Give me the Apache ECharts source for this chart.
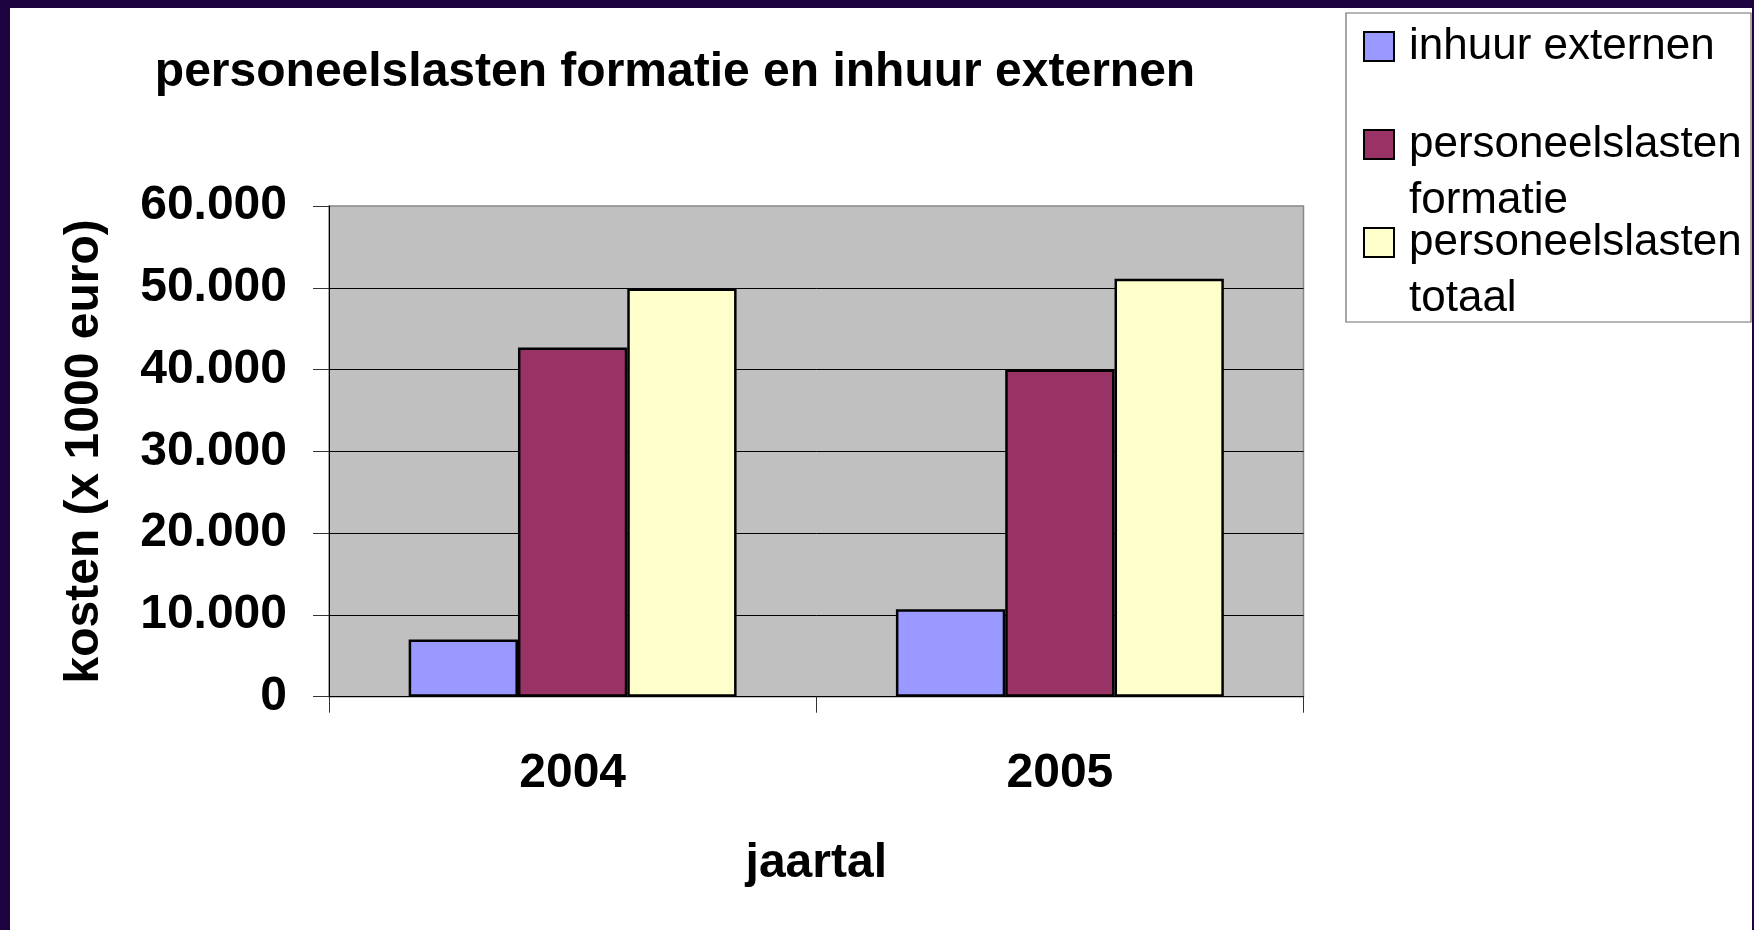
<!DOCTYPE html>
<html><head><meta charset="utf-8">
<script src="https://cdn.jsdelivr.net/npm/echarts@6/dist/echarts.min.js"></script>
<style>
html,body{margin:0;padding:0;width:1754px;height:930px;background:#1d0340;overflow:hidden;}
#chart{position:absolute;left:10px;top:8px;width:1742px;height:922px;background:#fff;}
</style></head><body><div id="chart"></div>
<script>
const categories = ['2004', '2005'];
const seriesNames = ['inhuur externen', 'personeelslasten formatie', 'personeelslasten totaal'];
const inhuurExternen = [7000, 10700];
const personeelslastenFormatie = [42700, 40000];
const personeelslastenTotaal = [49900, 51100];
const yTickLabels = ['0', '10.000', '20.000', '30.000', '40.000', '50.000', '60.000'];
const legendLabels = ['\u00a0\ninhuur externen\n\u00a0', '\u00a0\npersoneelslasten\nformatie', '\u00a0\npersoneelslasten\ntotaal'];
const seriesColors = ['#9999FF', '#993366', '#FFFFCC'];

const FONT = "'Liberation Sans', Arial, Helvetica, sans-serif";
const chart = echarts.init(document.getElementById('chart'), null, {renderer: 'canvas'});
const values = [inhuurExternen, personeelslastenFormatie, personeelslastenTotaal];

chart.setOption({
  animation: false,
  backgroundColor: '#ffffff',
  title: {
    text: 'personeelslasten formatie en inhuur externen',
    left: 665, top: 41, padding: 0, textAlign: 'center',
    textStyle: {fontFamily: FONT, fontSize: 48, fontWeight: 'bold', color: '#000', lineHeight: 48}
  },
  legend: {
    orient: 'vertical', left: 1353, top: -45.5, padding: 0, itemGap: -70,
    itemWidth: 30, itemHeight: 29, icon: 'rect', selectedMode: false,
    textStyle: {fontFamily: FONT, fontSize: 44, color: '#000', lineHeight: 56,
      backgroundColor: 'rgba(255,255,255,0)', padding: [0, 0, 0, 10]},
    formatter: function (name) { return legendLabels[seriesNames.indexOf(name)]; },
    data: seriesNames.slice()
  },
  graphic: [{
    type: 'rect', shape: {x: 1336, y: 5, width: 405, height: 309},
    style: {fill: 'none', stroke: '#6e6e6e', lineWidth: 1.2}, silent: true
  }],
  grid: {
    left: 319, top: 198, right: 448.5, bottom: 233.3,
    show: true, backgroundColor: '#C0C0C0', borderColor: '#888888', borderWidth: 1.5,
    containLabel: false, outerBoundsMode: 'none'
  },
  xAxis: {
    type: 'category', data: categories,
    name: 'jaartal', nameLocation: 'middle', nameGap: 143,
    nameTextStyle: {fontFamily: FONT, fontSize: 48, fontWeight: 'bold', color: '#000', lineHeight: 48},
    axisLine: {show: true, lineStyle: {color: '#000', width: 1}},
    axisTick: {show: true, length: 16, lineStyle: {color: '#333', width: 1}},
    axisLabel: {margin: 53, fontFamily: FONT, fontSize: 48, fontWeight: 'bold', color: '#000', lineHeight: 48},
    splitLine: {show: false}
  },
  yAxis: {
    type: 'value', min: 0, max: 60000, interval: 10000,
    name: 'kosten (x 1000 euro)', nameLocation: 'middle', nameGap: 220.5,
    nameTextStyle: {fontFamily: FONT, fontSize: 48, fontWeight: 'bold', color: '#000', lineHeight: 48},
    axisLine: {show: true, lineStyle: {color: '#000', width: 1}},
    axisTick: {show: true, length: 16, lineStyle: {color: '#333', width: 1}},
    axisLabel: {
      margin: 42, fontFamily: FONT, fontSize: 48, fontWeight: 'bold', color: '#000',
      formatter: function (v) { return yTickLabels[Math.round(v / 10000)]; }
    },
    splitLine: {show: true, showMinLine: false, showMaxLine: false, lineStyle: {color: '#000', width: 1}}
  },
  series: seriesNames.map(function (n, i) {
    return {
      name: n, type: 'bar', data: values[i],
      barGap: '0%', barCategoryGap: '32.7%',
      itemStyle: {color: seriesColors[i], borderColor: '#000', borderWidth: 2.5}
    };
  })
});
</script></body></html>
